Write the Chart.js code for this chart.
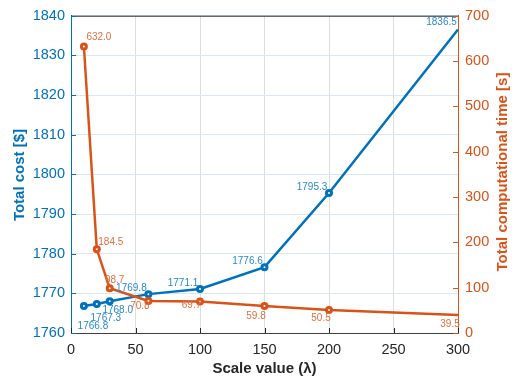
<!DOCTYPE html>
<html>
<head>
<meta charset="utf-8">
<script src="https://cdn.jsdelivr.net/npm/chart.js@4.4.1/dist/chart.umd.min.js"></script>
<style>
html,body{margin:0;padding:0;background:#fff;}
#wrap{width:516px;height:382px;position:relative;}
</style>
</head>
<body>
<div id="wrap"><canvas id="c" width="516" height="382"></canvas></div>
<script>
const scaleValues = [10, 20, 30, 60, 100, 150, 200, 300];
const totalCost = [1766.8, 1767.3, 1768.0, 1769.8, 1771.1, 1776.6, 1795.3, 1836.5];
const compTime = [632.0, 184.5, 98.7, 70.8, 69.7, 59.8, 50.5, 39.5];
const costTicks = [1760, 1770, 1780, 1790, 1800, 1810, 1820, 1830, 1840];
const timeTicks = [0, 100, 200, 300, 400, 500, 600, 700];
const xTicks = [0, 50, 100, 150, 200, 250, 300];

const BLUE = '#0072BD';
const ORANGE = '#D95319';
const FONT = '"Liberation Sans", Arial, Helvetica, sans-serif';

// label offsets (style only)
const costLabelOffsets = [[9,20],[9,14],[8,9],[-17,-6],[-17,-6],[-17,-6],[-17,-6],[-16.5,-7]];
const timeLabelOffsets = [[15,-9],[14,-7],[5,-8],[-8.5,5],[-8.5,4],[-8.5,10],[-8,8],[-8,9]];

const costData = scaleValues.map((x,i)=>({x:x, y:totalCost[i]}));
const timeData = scaleValues.map((x,i)=>({x:x, y:compTime[i]}));
const radii = scaleValues.map((x,i)=> i === scaleValues.length-1 ? 0 : 2.5);
const plain = v => String(v);

const extras = {
  id: 'extras',
  afterDatasetsDraw(chart) {
    const ctx = chart.ctx;
    ctx.save();
    ctx.font = '10px ' + FONT;
    ctx.textAlign = 'center';
    ctx.textBaseline = 'middle';
    const m0 = chart.getDatasetMeta(0);
    ctx.fillStyle = '#2a88cc';
    m0.data.forEach((p,i)=>{
      const o = costLabelOffsets[i];
      ctx.fillText(totalCost[i].toFixed(1), p.x + o[0], p.y + o[1]);
    });
    const m1 = chart.getDatasetMeta(1);
    ctx.fillStyle = '#e0703f';
    m1.data.forEach((p,i)=>{
      const o = timeLabelOffsets[i];
      ctx.fillText(compTime[i].toFixed(1), p.x + o[0], p.y + o[1]);
    });
    ctx.restore();
  },
  afterDraw(chart) {
    const ctx = chart.ctx;
    const ca = chart.chartArea;
    const xs = chart.scales.x, yl = chart.scales.y, yr = chart.scales.y1;
    ctx.save();
    ctx.strokeStyle = '#262626';
    ctx.lineWidth = 1;
    ctx.beginPath();
    ctx.moveTo(ca.left, ca.top + 0.5);
    ctx.lineTo(ca.right, ca.top + 0.5);
    ctx.stroke();
    const tl = 5;
    ctx.strokeStyle = '#262626';
    ctx.beginPath();
    xTicks.forEach(v=>{
      const px = Math.round(xs.getPixelForValue(v)) + 0.5;
      ctx.moveTo(px, ca.bottom);
      ctx.lineTo(px, ca.bottom - tl);
    });
    ctx.stroke();
    ctx.strokeStyle = BLUE;
    ctx.beginPath();
    costTicks.forEach(v=>{
      const py = Math.round(yl.getPixelForValue(v)) + 0.5;
      ctx.moveTo(ca.left, py);
      ctx.lineTo(ca.left + tl, py);
    });
    ctx.stroke();
    ctx.strokeStyle = ORANGE;
    ctx.beginPath();
    timeTicks.forEach(v=>{
      const py = Math.round(yr.getPixelForValue(v)) + 0.5;
      ctx.moveTo(ca.right, py);
      ctx.lineTo(ca.right - tl, py);
    });
    ctx.stroke();
    ctx.font = 'bold 15px ' + FONT;
    ctx.textAlign = 'center';
    ctx.textBaseline = 'middle';
    ctx.fillStyle = '#262626';
    ctx.fillText('Scale value (\u03bb)', (ca.left + ca.right)/2, 369);
    ctx.save();
    ctx.translate(20, 175);
    ctx.rotate(-Math.PI/2);
    ctx.fillStyle = BLUE;
    ctx.fillText('Total cost [$]', 0, 0);
    ctx.restore();
    ctx.save();
    ctx.translate(503, 172);
    ctx.rotate(-Math.PI/2);
    ctx.fillStyle = ORANGE;
    ctx.fillText('Total computational time [s]', 0, 0);
    ctx.restore();
    ctx.restore();
  }
};

new Chart(document.getElementById('c'), {
  type: 'line',
  data: {
    datasets: [
      {
        label: 'Total cost',
        data: costData,
        yAxisID: 'y',
        borderColor: BLUE,
        backgroundColor: '#ffffff',
        borderWidth: 2.5,
        pointRadius: radii,
        pointBorderWidth: 3,
        pointBackgroundColor: '#ffffff',
        pointBorderColor: BLUE,
        tension: 0,
        order: 2
      },
      {
        label: 'Total computational time',
        data: timeData,
        yAxisID: 'y1',
        borderColor: ORANGE,
        backgroundColor: '#ffffff',
        borderWidth: 2.5,
        pointRadius: radii,
        pointBorderWidth: 3,
        pointBackgroundColor: '#ffffff',
        pointBorderColor: ORANGE,
        tension: 0,
        order: 1
      }
    ]
  },
  options: {
    responsive: false,
    animation: false,
    events: [],
    layout: { padding: { top: 11, left: 0, right: 0, bottom: 0 } },
    plugins: { legend: { display: false }, tooltip: { enabled: false } },
    scales: {
      x: {
        type: 'linear',
        min: 0, max: 300,
        afterFit(s) { s.height = 49; },
        afterBuildTicks(s) { s.ticks = xTicks.map(v=>({value:v})); },
        ticks: { color: '#262626', font: { family: FONT, size: 14.5 }, padding: 8, maxRotation: 0, callback: plain },
        grid: { color: '#dedede', lineWidth: 1, drawTicks: false },
        border: { color: '#404040', width: 1 }
      },
      y: {
        type: 'linear',
        position: 'left',
        min: 1760, max: 1840,
        afterFit(s) { s.width = 71; },
        afterBuildTicks(s) { s.ticks = costTicks.map(v=>({value:v})); },
        ticks: { color: BLUE, font: { family: FONT, size: 14.5 }, padding: 6, callback: plain },
        grid: { color: '#dbe7f2', lineWidth: 1, drawTicks: false },
        border: { color: BLUE, width: 1 }
      },
      y1: {
        type: 'linear',
        position: 'right',
        min: 0, max: 700,
        afterFit(s) { s.width = 58; },
        afterBuildTicks(s) { s.ticks = timeTicks.map(v=>({value:v})); },
        ticks: { color: ORANGE, font: { family: FONT, size: 14.5 }, padding: 7, callback: plain },
        grid: { display: false, drawTicks: false },
        border: { color: ORANGE, width: 1 }
      }
    }
  },
  plugins: [extras]
});
</script>
</body>
</html>
